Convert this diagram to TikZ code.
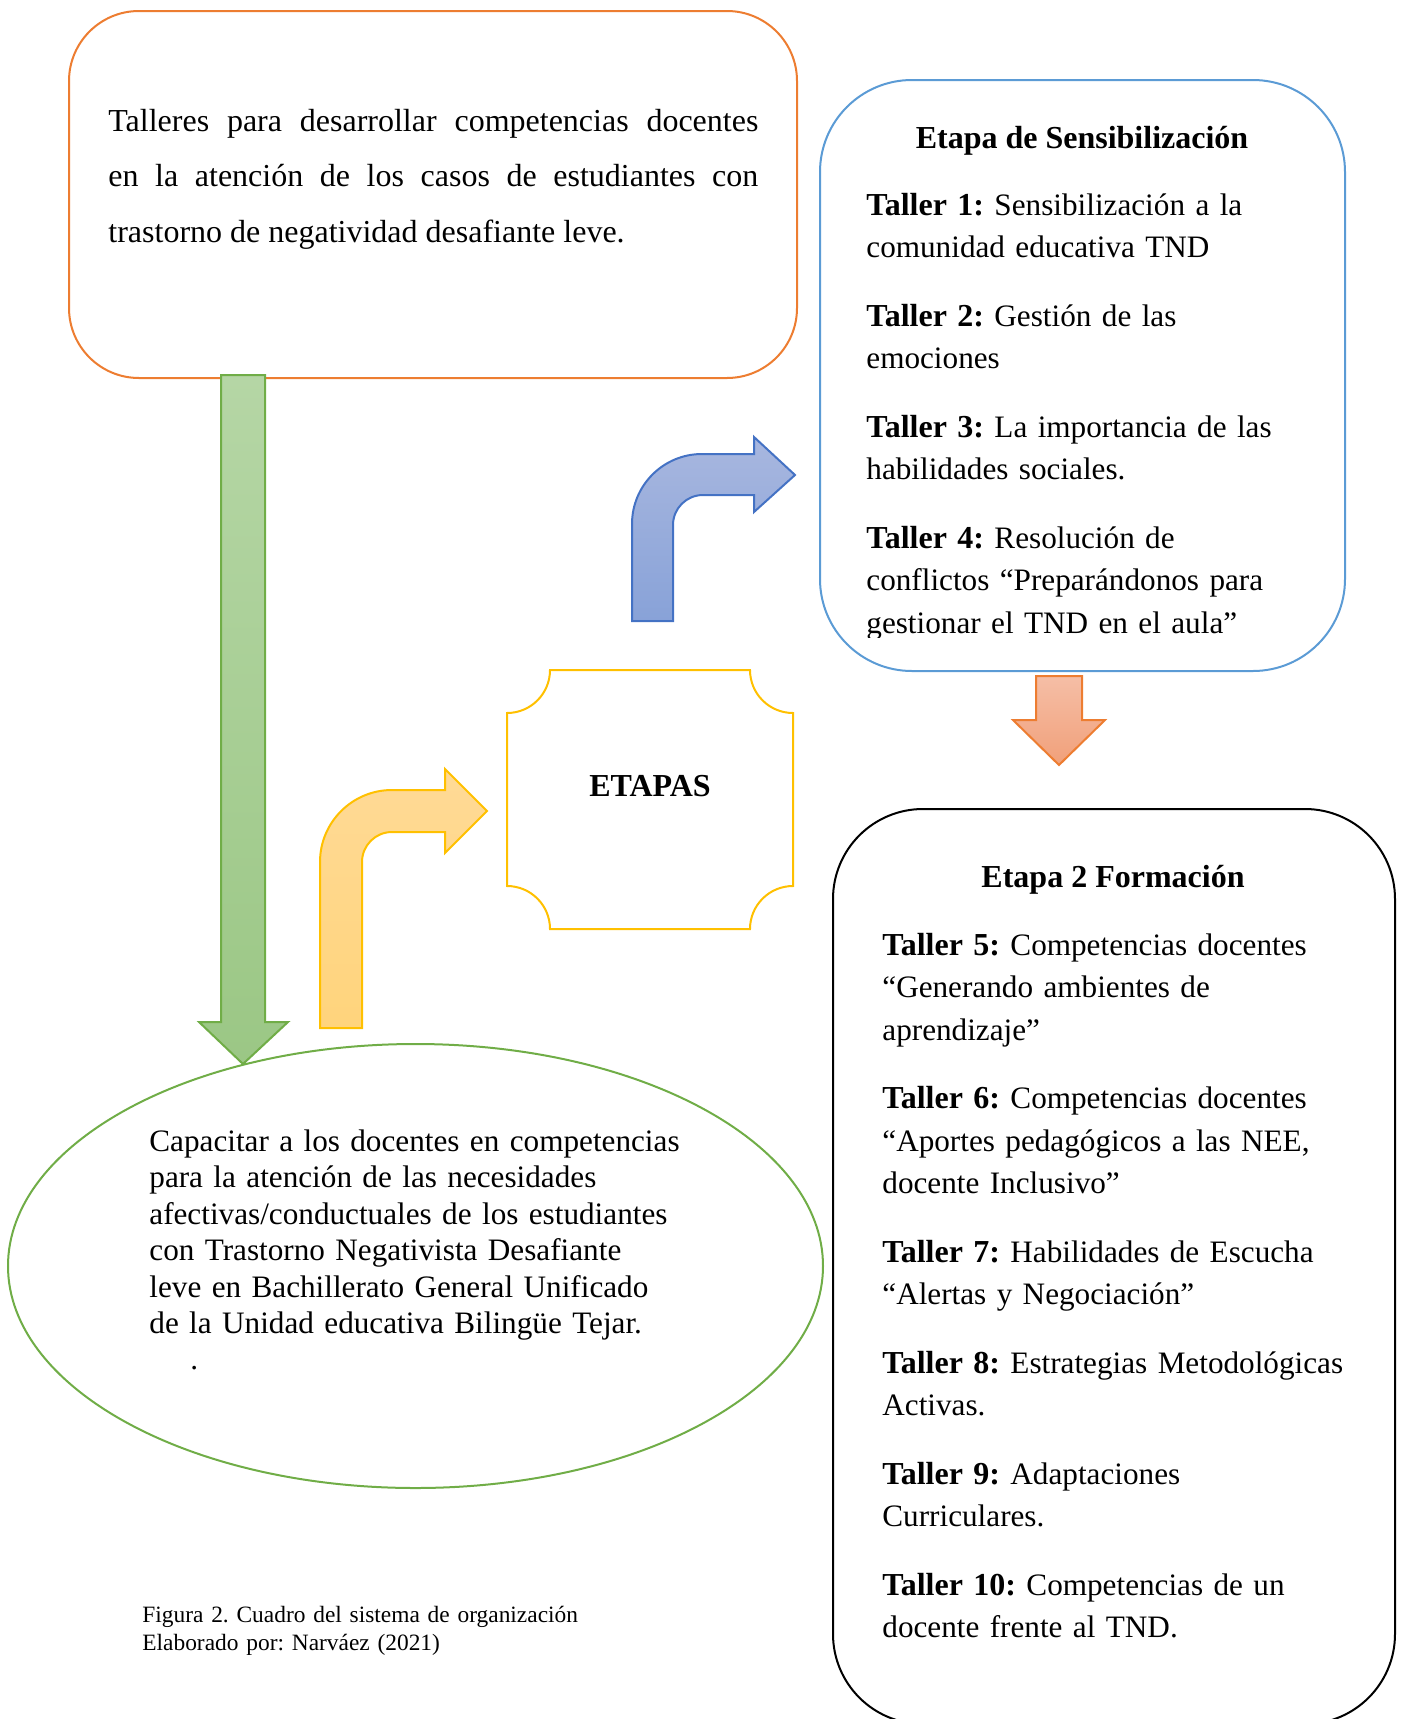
\documentclass[tikz,border=0pt]{standalone}
\usepackage{fontspec}
\setmainfont{Liberation Serif}
\frenchspacing
\definecolor{orangeborder}{HTML}{ED7D31}
\definecolor{blueborder}{HTML}{5B9BD5}
\definecolor{goldborder}{HTML}{FFC000}
\definecolor{greenborder}{HTML}{70AD47}
\definecolor{arrowblue}{HTML}{4472C4}
\definecolor{greentop}{HTML}{B5D6A5}
\definecolor{greenbottom}{HTML}{9BC785}
\definecolor{bluetop}{HTML}{A8B7DF}
\definecolor{bluebottom}{HTML}{88A2D8}
\definecolor{goldtop}{HTML}{FFDA96}
\definecolor{goldbottom}{HTML}{FFD47C}
\definecolor{salmontop}{HTML}{F5BEA6}
\definecolor{salmonbottom}{HTML}{F1A07A}
\newcommand{\tallerlbl}[1]{{\fontsize{16}{21.25}\selectfont\bfseries Taller #1:}}

\begin{document}
\begin{tikzpicture}[x=0.5pt, y=-0.5pt,
    txt/.style={inner sep=0pt, anchor=base west, align=left, font={\fontsize{15.6}{21.25}\selectfont}},
    title/.style={inner sep=0pt, anchor=base, font={\fontsize{16}{21}\selectfont\bfseries}}]
      \useasboundingbox (0,0) rectangle (1403,1719);

      \draw[fill=white, draw=orangeborder, line width=1pt, rounded corners=35pt] (69,11) rectangle (797,378);
      \node[inner sep=0pt, anchor=base west, text width=325pt, align=justify, font={\fontsize{16}{27.75}\selectfont}] (talleres) at (108,131)
            {Talleres para desarrollar competencias docentes\linebreak en la atención de los casos de estudiantes con\linebreak trastorno de negatividad desafiante leve.};

      \draw[fill=white, draw=blueborder, line width=1pt, rounded corners=46pt] (820,80) rectangle (1345,671);
      \node[title] (sensibilizacion) at (1082,148) {Etapa de Sensibilización};
      \begin{scope}
        \clip (820,80) rectangle (1345,637);
        \node[txt, text width=245pt] (etapauno) at (866,215)
              {\tallerlbl{1} Sensibilización a la\\ comunidad educativa TND\\[13pt]
               \tallerlbl{2} Gestión de las\\ emociones\\[13pt]
               \tallerlbl{3} La importancia de las\\ habilidades sociales.\\[13pt]
               \tallerlbl{4} Resolución de\\ conflictos “Preparándonos para\\ gestionar el TND en el aula”};
      \end{scope}

      \draw[fill=white, draw=black, line width=1pt, rounded corners=45pt] (833,809) rectangle (1395,1724);
      \node[title] (formacion) at (1113,887) {Etapa 2 Formación};
      \node[txt, text width=265pt] (etapados) at (882,955)
            {\tallerlbl{5} Competencias docentes\\ “Generando ambientes de\\ aprendizaje”\\[13pt]
             \tallerlbl{6} Competencias docentes\\ “Aportes pedagógicos a las NEE,\\ docente Inclusivo”\\[13pt]
             \tallerlbl{7} Habilidades de Escucha\\ “Alertas y Negociación”\\[13pt]
             \tallerlbl{8} Estrategias Metodológicas\\ Activas.\\[13pt]
             \tallerlbl{9} Adaptaciones\\ Curriculares.\\[13pt]
             \tallerlbl{10} Competencias de un\\ docente frente al TND.};

      \draw[fill=white, draw=goldborder, line width=1pt]
            (550,670) -- (750,670) arc[start angle=180, end angle=90, radius=43]
            -- (793,886) arc[start angle=270, end angle=180, radius=43]
            -- (550,929) arc[start angle=0, end angle=-90, radius=43]
            -- (507,713) arc[start angle=90, end angle=0, radius=43] -- cycle;
      \node[title] (etapas) at (650,796) {ETAPAS};

      \path[draw=greenborder, line width=1pt, top color=greentop, bottom color=greenbottom]
            (221,375) -- (265,375) -- (265,1022) -- (288,1022) -- (243,1064) -- (199,1022) -- (221,1022) -- cycle;

      \path[draw=goldborder, line width=1pt, top color=goldtop, bottom color=goldbottom]
            (320,1028) -- (320,862) arc[start angle=180, end angle=270, radius=72]
            -- (445,790) -- (445,769) -- (487,811) -- (445,853) -- (445,832)
            -- (392,832) arc[start angle=270, end angle=180, radius=30] -- (362,1028) -- cycle;

      \path[draw=arrowblue, line width=1pt, top color=bluetop, bottom color=bluebottom]
            (632,621) -- (632,524) arc[start angle=180, end angle=270, radius=70]
            -- (754,454) -- (754,437) -- (795,475) -- (754,512) -- (754,495)
            -- (703,495) arc[start angle=270, end angle=180, radius=30] -- (673,621) -- cycle;

      \path[draw=orangeborder, line width=1pt, top color=salmontop, bottom color=salmonbottom]
            (1036,676) -- (1082,676) -- (1082,720) -- (1105,720) -- (1059,765) -- (1013,720) -- (1036,720) -- cycle;

      \draw[draw=greenborder, line width=1pt] (415.5,1266) ellipse [x radius=407.5, y radius=222];
      \node[txt, text width=290pt, font={\fontsize{15.6}{18.25}\selectfont}] (capacitar) at (149,1151)
            {Capacitar a los docentes en competencias\\ para la atención de las necesidades\\ afectivas/conductuales de los estudiantes\\ con Trastorno Negativista Desafiante\\ leve en Bachillerato General Unificado\\ de la Unidad educativa Bilingüe Tejar.};
      \node[txt] (punto) at (190,1369) {.};

      \node[txt, text width=300pt, font={\fontsize{11.7}{14}\selectfont}] (figura) at (142,1622)
            {Figura 2. Cuadro del sistema de organización\\ Elaborado por: Narváez (2021)};
    \end{tikzpicture}
\end{document}
